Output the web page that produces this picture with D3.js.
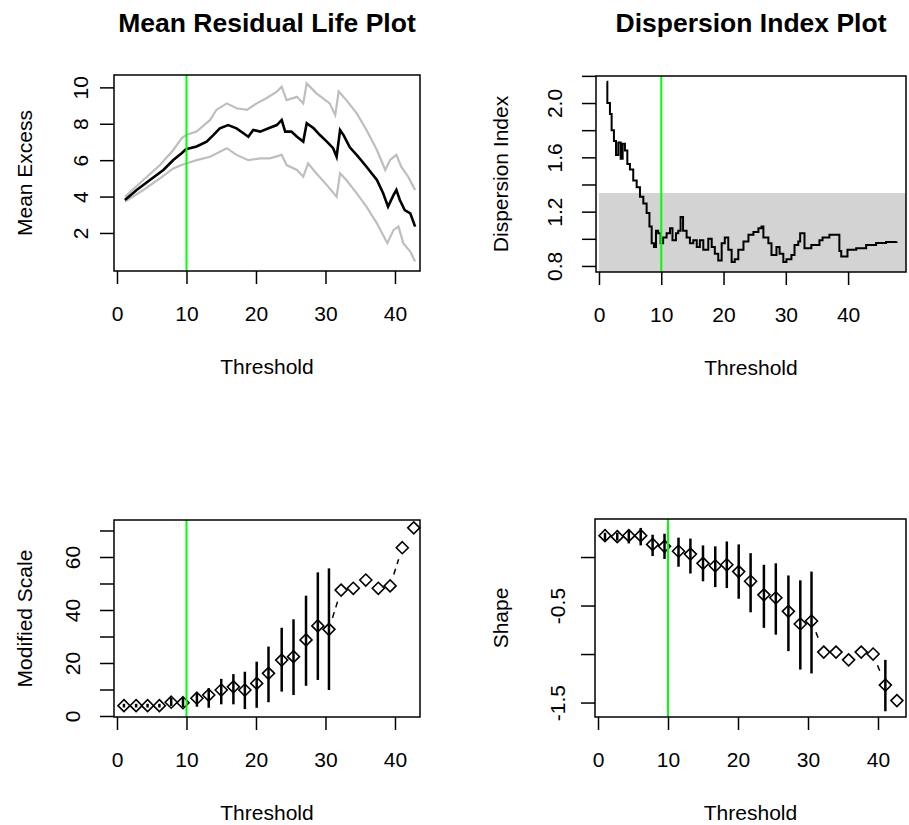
<!DOCTYPE html>
<html>
<head>
<meta charset="utf-8">
<script src="https://cdnjs.cloudflare.com/ajax/libs/d3/7.8.5/d3.min.js"></script>
<style>
  body { margin: 0; background: #fff; }
  svg { display: block; font-family: "Liberation Sans", Arial, sans-serif; }
</style>
</head>
<body>
<svg id="chart" width="909" height="825"></svg>
<script>
// ---- data ----
// mean residual life (threshold, value)
var meanX = [1.14, 2.83, 4.74, 6.67, 8.1, 9.3, 9.93, 11.46, 12.9, 13.86, 14.8, 16.0, 17.2, 18.2, 18.9, 19.6, 20.6, 21.8, 23.0, 23.7, 24.2, 25.1, 25.9, 26.8, 27.3, 28.3, 29.2, 30.2, 31.1, 31.6, 32.1, 32.6, 33.5, 34.7, 35.9, 37.4, 38.3, 39.0, 39.8, 40.2, 40.7, 41.4, 42.2, 42.9];
var meanY = [3.81, 4.36, 4.91, 5.46, 6.01, 6.38, 6.6, 6.75, 7.02, 7.38, 7.75, 7.93, 7.75, 7.48, 7.29, 7.66, 7.57, 7.75, 7.93, 8.21, 7.57, 7.57, 7.29, 7.02, 8.03, 7.75, 7.38, 7.02, 6.66, 6.19, 7.66, 7.38, 6.71, 6.19, 5.64, 4.91, 4.18, 3.45, 4.09, 4.36, 3.81, 3.26, 3.08, 2.35];
var upperX = [1.14, 3.79, 6.19, 8.1, 9.3, 9.93, 11.46, 13.4, 14.3, 15.8, 17.2, 18.7, 20.1, 21.5, 23.0, 23.7, 24.4, 25.9, 26.8, 27.3, 28.7, 30.6, 31.4, 31.9, 33.0, 34.5, 35.9, 37.4, 38.6, 39.3, 40.2, 40.9, 41.9, 42.9];
var upperY = [3.99, 4.91, 5.73, 6.56, 7.2, 7.38, 7.57, 8.21, 8.76, 9.12, 8.85, 8.76, 9.12, 9.4, 9.77, 10.04, 9.3, 9.48, 9.12, 10.22, 9.67, 9.12, 8.48, 9.77, 9.3, 8.57, 7.66, 6.56, 5.46, 6.01, 6.29, 5.64, 5.09, 4.36];
var lowerX = [1.14, 3.79, 6.19, 8.1, 9.3, 9.93, 11.46, 13.4, 15.8, 17.2, 18.9, 20.6, 22.0, 23.7, 24.4, 25.9, 26.8, 27.5, 28.7, 30.2, 31.6, 32.1, 33.0, 34.5, 35.9, 37.4, 38.9, 39.8, 40.5, 41.2, 42.2, 42.9];
var lowerY = [3.72, 4.36, 5.0, 5.55, 5.73, 5.82, 6.0, 6.19, 6.66, 6.29, 6.0, 6.1, 6.1, 6.29, 5.73, 5.46, 5.09, 5.82, 5.27, 4.63, 3.99, 5.27, 4.91, 4.18, 3.45, 2.53, 1.44, 2.17, 2.35, 1.44, 0.98, 0.43];

// dispersion index (threshold, value), drawn as steps
var diX = [1.23, 1.34, 1.76, 2.03, 2.4, 2.73, 3.1, 3.48, 3.8, 4.17, 4.55, 4.97, 5.5, 6.05, 6.58, 7.12, 7.65, 8.1, 8.46, 8.83, 9.15, 9.5, 9.9, 10.3, 10.86, 11.4, 11.8, 12.36, 12.73, 13.1, 13.5, 14.07, 14.6, 15.14, 15.7, 16.2, 16.75, 17.55, 18.1, 18.6, 19.15, 19.7, 20.2, 20.76, 21.3, 21.8, 22.37, 23.2, 24.0, 24.8, 25.6, 26.1, 26.4, 27.2, 27.7, 28.5, 29.0, 29.6, 30.1, 30.9, 31.4, 32.0, 32.3, 33.0, 34.1, 35.4, 35.9, 37.0, 38.3, 38.6, 38.9, 39.9, 41.3, 42.9, 44.5, 46.1, 47.8];
var diY = [2.157, 2.0, 1.92, 1.80, 1.72, 1.617, 1.71, 1.59, 1.70, 1.65, 1.55, 1.51, 1.43, 1.38, 1.31, 1.26, 1.19, 1.09, 0.967, 0.94, 1.06, 1.04, 0.967, 1.01, 1.04, 1.077, 0.99, 1.04, 1.06, 1.16, 1.06, 1.01, 0.967, 0.99, 0.94, 0.99, 0.92, 1.0, 0.94, 0.89, 0.84, 0.967, 1.01, 0.92, 0.83, 0.85, 0.92, 0.98, 1.03, 1.05, 1.077, 1.09, 1.01, 0.967, 0.88, 0.94, 0.89, 0.83, 0.85, 0.88, 0.955, 0.98, 1.04, 0.93, 0.955, 0.99, 1.01, 1.03, 1.03, 0.91, 0.87, 0.92, 0.93, 0.955, 0.97, 0.976, 0.98];
var diBand = [0.7, 1.337];

// threshold choice plots
var thresholds = [1.0, 2.75, 4.4, 6.1, 7.8, 9.5, 11.5, 13.2, 15.0, 16.75, 18.4, 20.1, 21.8, 23.7, 25.4, 27.2, 28.9, 30.5, 32.25, 34.0, 35.8, 37.6, 39.3, 41.05, 42.7];
var modScale = [3.9, 3.9, 3.9, 3.9, 5.2, 5.0, 6.7, 7.9, 9.8, 11.0, 9.8, 12.3, 16.1, 21.1, 22.4, 28.7, 34.0, 32.7, 47.5, 48.2, 51.3, 48.2, 49.1, 63.5, 71.0];
var modLo = [3.2, 3.2, 3.2, 3.2, 3.8, 3.4, 3.5, 3.1, 4.4, 4.4, 2.6, 3.1, 5.2, 9.2, 7.9, 11.4, 13.6, 9.8, null, null, null, null, null, null, null];
var modHi = [4.6, 4.6, 4.6, 4.6, 6.8, 6.8, 8.6, 10.5, 14.0, 15.8, 16.7, 20.5, 26.2, 33.3, 36.5, 45.4, 54.2, 55.7, null, null, null, null, null, null, null];
var shape = [0.22, 0.21, 0.22, 0.22, 0.13, 0.11, 0.06, 0.03, -0.065, -0.09, -0.08, -0.15, -0.25, -0.39, -0.42, -0.56, -0.69, -0.66, -0.98, -0.98, -1.06, -0.98, -1.0, -1.32, -1.48];
var shapeLo = [0.175, 0.17, 0.14, 0.12, 0.01, -0.02, -0.1, -0.17, -0.25, -0.31, -0.32, -0.43, -0.57, -0.73, -0.80, -0.97, -1.16, -1.2, null, null, null, null, null, -1.59, null];
var shapeHi = [0.25, 0.25, 0.28, 0.30, 0.23, 0.24, 0.2, 0.19, 0.12, 0.11, 0.16, 0.13, 0.04, -0.08, -0.065, -0.19, -0.24, -0.15, null, null, null, null, null, -1.06, null];

var chosen = 10;
var xTicks = [0, 10, 20, 30, 40];

var svg = d3.select("#chart");
svg.append("rect").attr("width", 909).attr("height", 825).attr("fill", "#fff");

function scales(p) {
    return {
        x: d3.scaleLinear().domain(p.xDomain).range([p.left, p.right]),
        y: d3.scaleLinear().domain(p.yDomain).range([p.bottom, p.top])
    };
}

// box, axes, titles (drawn last so they sit on top)
function frame(p, s) {
    var g = svg.append("g");

    // green chosen threshold
    g.append("line")
        .attr("x1", s.x(chosen)).attr("x2", s.x(chosen))
        .attr("y1", p.top).attr("y2", p.bottom)
        .attr("stroke", "#00ff00").attr("stroke-width", 2);

    g.append("rect")
        .attr("x", p.left).attr("y", p.top)
        .attr("width", p.right - p.left).attr("height", p.bottom - p.top)
        .attr("fill", "none").attr("stroke", "#000").attr("stroke-width", 1.5);

    var xa = g.append("g")
        .attr("transform", "translate(0," + p.bottom + ")")
        .call(d3.axisBottom(s.x).tickValues(xTicks).tickSize(13).tickSizeOuter(0));
    xa.select(".domain").remove();
    xa.selectAll("line").attr("stroke-width", 1.5);
    xa.selectAll("text").attr("y", 50).attr("dy", 0)
        .attr("font-size", 21).attr("font-family", null).attr("fill", "#000");

    var ya = g.append("g")
        .attr("transform", "translate(" + p.left + ",0)")
        .call(d3.axisLeft(s.y).tickValues(p.yTicks).tickSize(14).tickSizeOuter(0)
            .tickFormat(function(d) { return p.yLabels.indexOf(d) >= 0 ? p.fmt(d) : ""; }));
    ya.select(".domain").remove();
    ya.selectAll("line").attr("stroke-width", 1.5);
    ya.selectAll("text")
        .attr("x", 0).attr("y", -p.labOff).attr("dy", 0)
        .attr("transform", "rotate(-90)")
        .attr("text-anchor", "middle")
        .attr("font-size", 21).attr("font-family", null).attr("fill", "#000");

    var cx = (p.left + p.right) / 2;
    g.append("text")
        .attr("x", cx).attr("y", p.bottom + 103)
        .attr("text-anchor", "middle").attr("font-size", 21)
        .text("Threshold");

    g.append("text")
        .attr("transform", "translate(" + p.ylabX + "," + ((p.top + p.bottom) / 2) + ") rotate(-90)")
        .attr("text-anchor", "middle").attr("font-size", 21)
        .text(p.ylab);

    if (p.title) {
        g.append("text")
            .attr("x", cx).attr("y", 32)
            .attr("text-anchor", "middle").attr("font-size", 26.5).attr("font-weight", "bold")
            .text(p.title);
    }
}

function pairs(xs, ys) {
    return xs.map(function(d, i) { return [d, ys[i]]; });
}

// points joined R type="b" style: dashed segments with a gap round each point
function gappedLinks(g, pts, gap) {
    for (var i = 0; i < pts.length - 1; i++) {
        var a = pts[i], b = pts[i + 1];
        var dx = b[0] - a[0], dy = b[1] - a[1];
        var L = Math.sqrt(dx * dx + dy * dy);
        if (L <= 2 * gap) continue;
        var ux = dx / L, uy = dy / L;
        g.append("line")
            .attr("x1", a[0] + ux * gap).attr("y1", a[1] + uy * gap)
            .attr("x2", b[0] - ux * gap).attr("y2", b[1] - uy * gap)
            .attr("stroke", "#000").attr("stroke-width", 1.5)
            .attr("stroke-dasharray", "6,5");
    }
}

function tcPanel(p, vals, lo, hi) {
    var s = scales(p);
    var g = svg.append("g");
    // confidence bars
    thresholds.forEach(function(t, i) {
        if (lo[i] == null) return;
        g.append("line")
            .attr("x1", s.x(t)).attr("x2", s.x(t))
            .attr("y1", s.y(lo[i])).attr("y2", s.y(hi[i]))
            .attr("stroke", "#000").attr("stroke-width", 2.5);
    });
    var pts = thresholds.map(function(t, i) { return [s.x(t), s.y(vals[i])]; });
    gappedLinks(g, pts, 12);
    var r = 6;
    g.selectAll("path.pt").data(pts).enter().append("path")
        .attr("class", "pt")
        .attr("d", function(d) {
            return "M" + d[0] + "," + (d[1] - r) + "L" + (d[0] + r) + "," + d[1] +
                   "L" + d[0] + "," + (d[1] + r) + "L" + (d[0] - r) + "," + d[1] + "Z";
        })
        .attr("fill", "none").attr("stroke", "#000").attr("stroke-width", 1.6);
    frame(p, s);
}

// ---- panel 1: mean residual life ----
var p1 = { left: 114, right: 420, top: 75, bottom: 271, xDomain: [-0.43, 43.6], yDomain: [-0.09, 10.68],
           yTicks: [2, 4, 6, 8, 10], yLabels: [2, 4, 6, 8, 10], fmt: d3.format("d"), labOff: 26,
           ylab: "Mean Excess", ylabX: 32, title: "Mean Residual Life Plot" };
(function() {
    var s = scales(p1);
    var line = d3.line().x(function(d) { return s.x(d[0]); }).y(function(d) { return s.y(d[1]); });
    var g = svg.append("g");
    g.append("path").attr("d", line(pairs(upperX, upperY)))
        .attr("fill", "none").attr("stroke", "#bebebe").attr("stroke-width", 2.2);
    g.append("path").attr("d", line(pairs(lowerX, lowerY)))
        .attr("fill", "none").attr("stroke", "#bebebe").attr("stroke-width", 2.2);
    g.append("path").attr("d", line(pairs(meanX, meanY)))
        .attr("fill", "none").attr("stroke", "#000").attr("stroke-width", 2.6);
    frame(p1, s);
})();

// ---- panel 2: dispersion index ----
var p2 = { left: 596, right: 906, top: 76, bottom: 272, xDomain: [-0.48, 49.3], yDomain: [0.7555, 2.199],
           yTicks: [0.8, 1.0, 1.2, 1.4, 1.6, 1.8, 2.0, 2.2], yLabels: [0.8, 1.2, 1.6, 2.0],
           fmt: function(d) { return d.toFixed(1); }, labOff: 34,
           ylab: "Dispersion Index", ylabX: 508, title: "Dispersion Index Plot" };
(function() {
    var s = scales(p2);
    var g = svg.append("g");
    g.append("rect")
        .attr("x", s.x(0)).attr("width", p2.right - s.x(0))
        .attr("y", s.y(diBand[1])).attr("height", p2.bottom - s.y(diBand[1]))
        .attr("fill", "#d3d3d3");
    var line = d3.line().curve(d3.curveStepAfter)
        .x(function(d) { return s.x(d[0]); }).y(function(d) { return s.y(d[1]); });
    g.append("path").attr("d", line(pairs(diX, diY)))
        .attr("fill", "none").attr("stroke", "#000").attr("stroke-width", 2);
    frame(p2, s);
})();

// ---- panel 3: modified scale ----
var p3 = { left: 114, right: 420, top: 520, bottom: 717, xDomain: [-0.43, 43.6], yDomain: [-0.38, 73.96],
           yTicks: [0, 10, 20, 30, 40, 50, 60, 70], yLabels: [0, 20, 40, 60], fmt: d3.format("d"), labOff: 34,
           ylab: "Modified Scale", ylabX: 32 };
tcPanel(p3, modScale, modLo, modHi);

// ---- panel 4: shape ----
var p4 = { left: 595, right: 906, top: 519, bottom: 717, xDomain: [-0.43, 44.0], yDomain: [-1.649, 0.392],
           yTicks: [0, -0.5, -1.0, -1.5], yLabels: [-0.5, -1.5],
           fmt: function(d) { return d.toFixed(1); }, labOff: 30,
           ylab: "Shape", ylabX: 508 };
tcPanel(p4, shape, shapeLo, shapeHi);
</script>
</body>
</html>
